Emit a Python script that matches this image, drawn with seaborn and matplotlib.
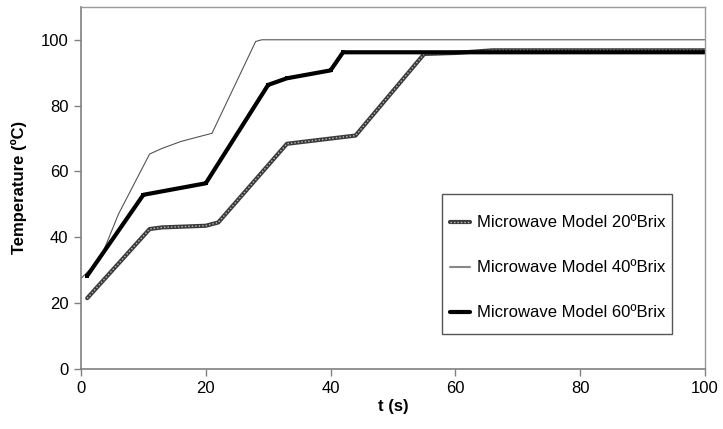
import pandas as pd
import seaborn as sns
import matplotlib.pyplot as plt
from matplotlib.lines import Line2D
from matplotlib.patches import Rectangle

# values (breakpoints of each curve)
t20 = [1, 11, 13, 20, 22, 33, 44, 55, 60, 66, 100]
T20 = [21.5, 42.5, 43.0, 43.5, 44.5, 68.4, 70.9, 95.7, 96.0, 96.8, 96.8]

t40 = [0, 3, 6, 11, 13, 16, 21, 28, 29, 100]
T40 = [27.5, 33.0, 47.0, 65.3, 67.0, 69.1, 71.6, 99.5, 100.0, 100.0]

t60 = [1, 10, 20, 30, 33, 40, 42, 100]
T60 = [28.3, 52.9, 56.4, 86.3, 88.3, 90.7, 96.2, 96.2]

labels = ["Microwave Model 20ºBrix", "Microwave Model 40ºBrix", "Microwave Model 60ºBrix"]

df20 = pd.DataFrame({"t": t20, "T": T20})
df40 = pd.DataFrame({"t": t40, "T": T40})
df60 = pd.DataFrame({"t": t60, "T": T60})

sns.set_style("white")
plt.rcParams['font.family'] = ['Liberation Sans', 'DejaVu Sans']
plt.rcParams['text.color'] = 'black'
plt.rcParams['axes.labelcolor'] = 'black'
plt.rcParams['xtick.color'] = 'black'
plt.rcParams['ytick.color'] = 'black'

fig = plt.figure(figsize=(7.23, 4.29), dpi=100)
ax = fig.add_axes([0.112, 0.140, 0.863, 0.844])

sns.lineplot(data=df40, x="t", y="T", ax=ax, color="#555555", linewidth=0.8)
sns.lineplot(data=df20, x="t", y="T", ax=ax, color="#3a3a3a", linewidth=3.0)
sns.lineplot(data=df20, x="t", y="T", ax=ax, color="#bdbdbd", linewidth=1.0, linestyle=(0, (1, 1.5)))
sns.lineplot(data=df60, x="t", y="T", ax=ax, color="black", linewidth=3.0,
             marker="s", markersize=3.5, markeredgewidth=0)

ax.set_xlim(0, 100)
ax.set_ylim(0, 110)
ax.set_xticks(range(0, 101, 20))
ax.set_yticks(range(0, 101, 20))
ax.tick_params(axis="both", labelsize=12, direction="out", length=5, width=1,
               color="#808080", labelcolor="black", bottom=True, left=True, pad=4)
ax.set_xlabel("t (s)", fontsize=12, fontweight="bold", labelpad=2)
ax.set_ylabel("Temperature (ºC)", fontsize=12, fontweight="bold", labelpad=10)

for side in ["left", "bottom"]:
    ax.spines[side].set_color("#808080")
    ax.spines[side].set_linewidth(1.2)
for side in ["top", "right"]:
    ax.spines[side].set_color("#9a9a9a")
    ax.spines[side].set_linewidth(1.0)

# legend frame drawn as a box, entries placed inside it
ax.add_patch(Rectangle((0.579, 0.097), 0.369, 0.386, transform=ax.transAxes,
                       facecolor="white", edgecolor="#555555", linewidth=1.0, zorder=4))

h20 = (Line2D([], [], color="#3a3a3a", linewidth=3.0),
       Line2D([], [], color="#bdbdbd", linewidth=1.0, linestyle=(0, (1, 1.5))))
h40 = Line2D([], [], color="#888888", linewidth=1.5)
h60 = Line2D([], [], color="black", linewidth=3.0, marker="s", markersize=3.5, markeredgewidth=0)

leg = ax.legend([h20, h40, h60], labels, loc="center left",
                bbox_to_anchor=(0.591, 0.279), frameon=False, fontsize=12,
                borderaxespad=0, borderpad=0, handlelength=1.2,
                handletextpad=0.45, labelspacing=1.8)
leg.set_zorder(5)

plt.savefig("out.png", dpi=100)
